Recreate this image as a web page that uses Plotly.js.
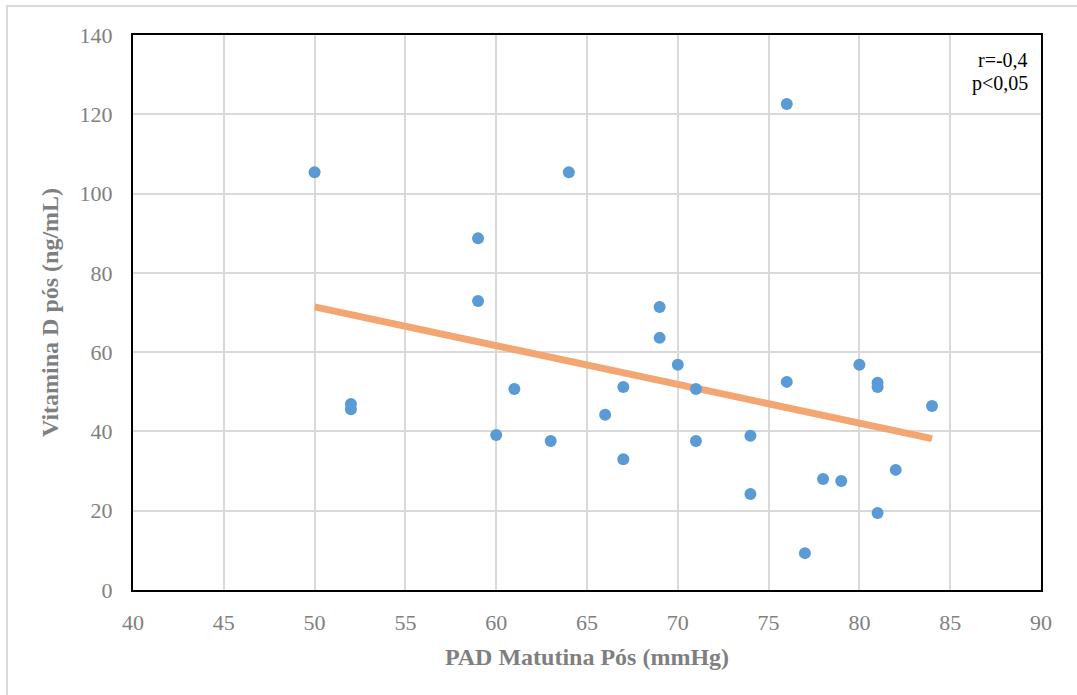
<!DOCTYPE html>
<html>
<head>
<meta charset="utf-8">
<script src="https://cdn.plot.ly/plotly-3.0.1.min.js"></script>
<style>
html,body{margin:0;padding:0;background:#fff;}
#chart{width:1077px;height:695px;position:relative;}
#frame{position:absolute;left:6px;top:5px;width:1080px;height:700px;border-left:2px solid #d9d9d9;border-top:2px solid #d9d9d9;pointer-events:none;z-index:10;}
</style>
</head>
<body>
<div id="chart"></div>
<div id="frame"></div>
<script>
const padX = [50,52,52,59,59,60,61,63,64,66,67,67,69,69,70,71,71,74,74,76,76,77,78,79,80,81,81,81,82,84];
const vitD = [105.4,46.9,45.6,88.7,72.9,39.1,50.7,37.6,105.4,44.2,51.2,33.0,71.4,63.6,56.8,50.7,37.6,38.9,24.2,122.6,52.5,9.3,28.0,27.5,56.8,52.3,51.2,19.4,30.3,46.4];
const trendX = [50,84];
const trendY = [71.4,38.2];
const xTicks = [40,45,50,55,60,65,70,75,80,85,90];
const yTicks = [0,20,40,60,80,100,120,140];
const statText = ["r=-0,4","p<0,05"];

const serif = "'Liberation Serif','Times New Roman',serif";
const data = [
  {x: trendX, y: trendY, type:'scatter', mode:'lines', line:{color:'#F4A672', width:7}, hoverinfo:'skip', showlegend:false},
  {x: padX, y: vitD, type:'scatter', mode:'markers', marker:{color:'#5B9BD5', size:12}, showlegend:false}
];
const layout = {
  width:1077, height:695,
  margin:{l:133, r:36, t:35, b:105},
  paper_bgcolor:'#fff', plot_bgcolor:'#fff',
  font:{family:serif, color:'#808080', size:22},
  xaxis:{range:[40,90], tickvals:xTicks, ticktext:xTicks.map(String), showgrid:true, gridcolor:'#d9d9d9', gridwidth:2,
    zeroline:false, showline:true, mirror:true, linecolor:'#000', linewidth:2, ticks:'', ticklen:0, ticklabelstandoff:12,
    tickfont:{family:serif, size:22, color:'#808080'},
    title:{text:'<b>PAD Matutina Pós (mmHg)</b>', font:{family:serif, size:24, color:'#7f7f7f'}, standoff:14}},
  yaxis:{range:[0,140], tickvals:yTicks, ticktext:yTicks.map(String), showgrid:true, gridcolor:'#d9d9d9', gridwidth:2,
    zeroline:false, showline:true, mirror:true, linecolor:'#000', linewidth:2, ticks:'', ticklen:0, ticklabelstandoff:14,
    tickfont:{family:serif, size:22, color:'#808080'},
    title:{text:'<b>Vitamina D pós (ng/mL)</b>', font:{family:serif, size:24, color:'#7f7f7f'}, standoff:14}},
  annotations:[
    {xref:'paper', yref:'paper', x:0.988, y:0.955, xanchor:'right', yanchor:'middle', showarrow:false,
     text: statText[0], font:{family:serif, size:20, color:'#000'}},
    {xref:'paper', yref:'paper', x:0.988, y:0.9135, xanchor:'right', yanchor:'middle', showarrow:false,
     text: statText[1], font:{family:serif, size:20, color:'#000'}}
  ]
};
Plotly.newPlot('chart', data, layout, {displayModeBar:false, staticPlot:true});
</script>
</body>
</html>
